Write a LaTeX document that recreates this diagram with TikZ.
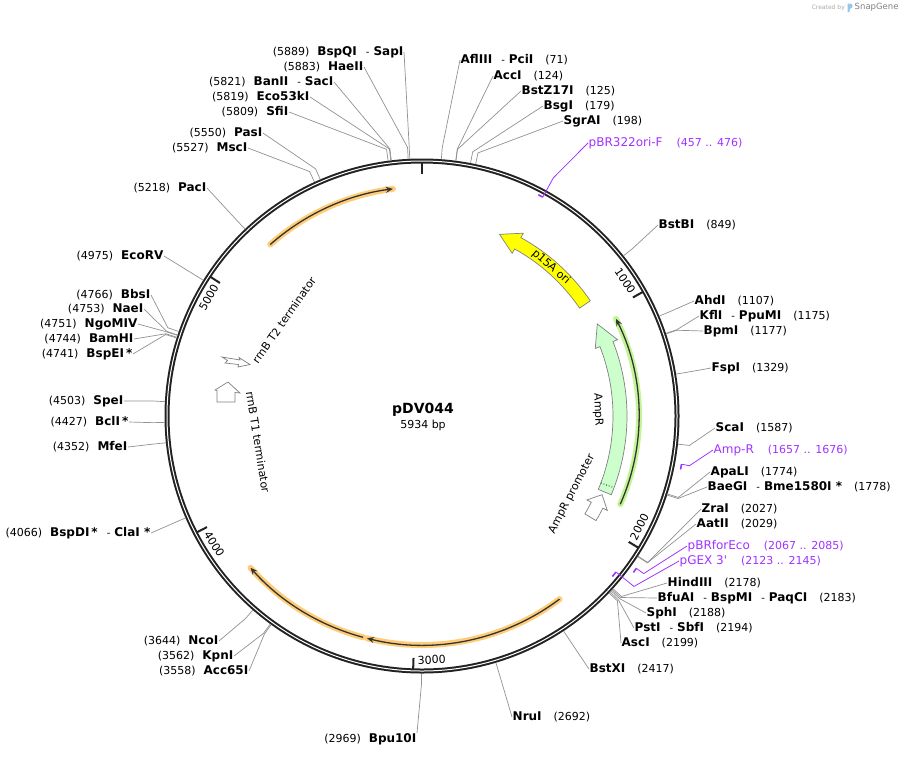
\documentclass[tikz,border=0pt]{standalone}
\usepackage{fontspec}
\setmainfont{DejaVu Sans}
\usetikzlibrary{calc,arrows.meta}

\definecolor{primer}{RGB}{160,50,255}
\definecolor{ringc}{RGB}{34,34,34}
\definecolor{leadc}{RGB}{145,145,145}
\definecolor{orfglow}{RGB}{255,205,120}
\definecolor{ampglow}{RGB}{195,245,150}
\definecolor{oriyel}{RGB}{255,255,0}
\definecolor{ampfill}{RGB}{204,255,204}
\definecolor{featline}{RGB}{128,128,128}
\definecolor{logoblue}{RGB}{150,200,235}

\newcommand\nm[1]{{\fontsize{12}{14}\selectfont\bfseries #1}}
\newcommand\ps[1]{{\fontsize{11}{13}\selectfont(#1)}}
\newcommand\pn[1]{{\fontsize{12}{14}\selectfont #1}}
\newcommand\dsh{\hspace{9pt}-\hspace{4pt}}
\def\ang#1{#1*0.06066734-90}

\tikzset{
  site/.style={inner sep=0.5pt, text height=8.5pt, text depth=2pt, text=black},
  plbl/.style={inner sep=0.5pt, text height=8.5pt, text depth=2pt, text=primer},
  leader/.style={draw=leadc, line width=0.7pt},
  feat/.style={draw=featline, line width=0.7pt},
  orfline/.style={draw=black!80, line width=1.3pt, -{Stealth[length=7pt,width=6pt]}},
  tick/.style={draw=ringc, line width=2pt},
  ticklbl/.style={inner sep=0pt, font=\fontsize{11}{13}\selectfont},
  featlbl/.style={inner sep=0pt, font=\fontsize{11}{13}\selectfont}
}

% enzyme site: id, bp, x, y, anchor, label
\newcommand\site[6]{%
  \coordinate (#1-r) at ($(O)+({\ang{#2}}:257.5)$);
  \coordinate (#1-k) at ($(O)+({\ang{#2}}:269)$);
  \node[site, anchor=#5] (#1) at (#3,#4) {#6};
  \draw[leader] (#1-r) -- (#1-k) -- (#1.#5);}

% primer: id, from, to, hook, mark radius, x, y, label
\newcommand\primer[8]{%
  \draw[primer, line width=1.6pt] ($(O)+({\ang{#2}}:#5)$) arc[start angle={\ang{#2}}, end angle={\ang{#3}}, radius=#5];
  \coordinate (#1-r) at ($(O)+({\ang{#4}}:#5)$);
  \coordinate (#1-k) at ($(O)+({\ang{#4}}:272)$);
  \node[plbl, anchor=west] (#1) at (#6,#7) {#8};
  \draw[primer, line width=0.8pt] (#1-r) -- (#1-k) -- (#1.west);}

% feature arrow: style, tail, head base, tip (angles), r in, r out
\newcommand\featarrow[6]{%
  \filldraw[feat, #1] ($(O)+(#2:#6)$) arc[start angle=#2, end angle=#3, radius=#6]
    -- ($(O)+(#3:{#6+5})$) -- ($(O)+(#4:{(#5+#6)/2})$) -- ($(O)+(#3:{#5-5})$)
    -- ($(O)+(#3:#5)$) arc[start angle=#3, end angle=#2, radius=#5] -- cycle;}

% orf: glow colour, start, end, radius
\newcommand\orf[4]{%
  \draw[#1, line width=6pt, line cap=round] ($(O)+(#2:#4)$) arc[start angle=#2, end angle=#3, radius=#4];
  \draw[orfline] ($(O)+(#2:#4)$) arc[start angle=#2, end angle=#3, radius=#4];}

\begin{document}
\begin{tikzpicture}[x=1pt, y=-1pt]
\useasboundingbox (0,0) rectangle (909,758);
\coordinate (O) at (422,416);

%%% backbone
\draw[ringc, line width=5pt] (O) circle (255);
\draw[white, line width=1pt] (O) circle (255);
\foreach \t in {0,1000,...,5000}
  \draw[tick] ($(O)+({\ang{\t}}:254)$) -- ($(O)+({\ang{\t}}:242)$);
\foreach \t/\s in {1000/-90,2000/90,3000/90,4000/90,5000/-90}{
  \pgfmathsetmacro\la{\ang{\t}-4.3}
  \pgfmathsetmacro\rr{\s-\la}
  \node[ticklbl, rotate=\rr] (tk\t) at ($(O)+(\la:244)$) {\t};
}

%%% features
\featarrow{fill=oriyel}{-34.4}{-61}{-66.9}{191}{204}
\node[featlbl, rotate=-40.9] (p15a) at ($(O)+(-49.1:197)$) {p15A ori};
\featarrow{fill=ampfill}{22.6}{-21.3}{-27.7}{191}{205}
\draw[dotted, line width=0.8pt] ($(O)+(20.5:191)$) -- ($(O)+(20.5:205)$);
\node[featlbl, rotate=-88] (ampr) at ($(O)+(-2:176)$) {AmpR};
\featarrow{fill=white}{31}{27}{23.6}{190}{203}
\node[featlbl, rotate=62.5] (amprp) at ($(O)+(27.5:169)$) {AmpR promoter};
\filldraw[feat, fill=white] (222,357) -- (240,360) -- (239,357.5) -- (250,364.5) -- (238,367) -- (238.5,364.5) -- (225,363) -- (227.5,360.5) -- cycle;
\node[featlbl, rotate=55.2] (t2) at ($(O)+(-145.2:168)$) {rrnB T2 terminator};
\filldraw[feat, fill=white] (217,402) -- (235,402) -- (235,392.5) -- (240,393) -- (228,382) -- (215,390) -- (217,390.5) -- cycle;
\node[featlbl, rotate=-81] (t1) at ($(O)+(171:166)$) {rrnB T1 terminator};

%%% orfs
\orf{orfglow}{-131.5}{-97.3}{229}
\orf{orfglow}{53.1}{103.9}{229}
\orf{orfglow}{104.9}{138.5}{229}
\orf{ampglow}{24}{-26.6}{217}

%%% name
\node[inner sep=0pt, font=\fontsize{14}{16}\selectfont\bfseries] (title) at (423,410) {pDV044};
\node[inner sep=0pt, font=\fontsize{11}{13}\selectfont, anchor=north] (len) at ([yshift=-3pt]title.south) {5934 bp};

%%% primers
\primer{pbrori}{457}{476}{476}{250}{588}{143}{\pn{pBR322ori-F}\hspace{14pt}\ps{457 .. 476}}
\primer{ampR}{1657}{1676}{1657}{264}{713}{450}{\pn{Amp-R}\hspace{14pt}\ps{1657 .. 1676}}
\primer{pbrfor}{2067}{2085}{2067}{263}{687}{546}{\pn{pBRforEco}\hspace{14pt}\ps{2067 .. 2085}}
\primer{pgex}{2123}{2145}{2123}{249}{679}{561}{\pn{pGEX 3\textquotesingle}\hspace{14pt}\ps{2123 .. 2145}}

%%% sites, right
\site{aflIII}{71}{460}{60}{west}{\nm{AflIII}\dsh\nm{PciI}\hspace{12pt}\ps{71}}
\site{accI}{124}{493}{76}{west}{\nm{AccI}\hspace{12pt}\ps{124}}
\site{bstZ}{125}{521}{91}{west}{\nm{BstZ17I}\hspace{12pt}\ps{125}}
\site{bsgI}{179}{543}{106}{west}{\nm{BsgI}\hspace{12pt}\ps{179}}
\site{sgrAI}{198}{563}{121}{west}{\nm{SgrAI}\hspace{12pt}\ps{198}}
\site{bstBI}{849}{658}{225}{west}{\nm{BstBI}\hspace{12pt}\ps{849}}
\site{ahdI}{1107}{694}{301}{west}{\nm{AhdI}\hspace{12pt}\ps{1107}}
\site{kflI}{1175}{699}{316}{west}{\nm{KflI}\dsh\nm{PpuMI}\hspace{12pt}\ps{1175}}
\site{bpmI}{1177}{703}{331}{west}{\nm{BpmI}\hspace{12pt}\ps{1177}}
\site{fspI}{1329}{711}{368}{west}{\nm{FspI}\hspace{12pt}\ps{1329}}
\site{scaI}{1587}{715}{428}{west}{\nm{ScaI}\hspace{12pt}\ps{1587}}
\site{apaLI}{1774}{710}{472}{west}{\nm{ApaLI}\hspace{12pt}\ps{1774}}
\site{baeGI}{1778}{707}{487}{west}{\nm{BaeGI}\dsh\nm{Bme1580I *}\hspace{12pt}\ps{1778}}
\site{zraI}{2027}{701}{509}{west}{\nm{ZraI}\hspace{12pt}\ps{2027}}
\site{aatII}{2029}{696}{524}{west}{\nm{AatII}\hspace{12pt}\ps{2029}}
\site{hindIII}{2178}{667}{583}{west}{\nm{HindIII}\hspace{12pt}\ps{2178}}
\site{bfuAI}{2183}{657}{598}{west}{\nm{BfuAI}\dsh\nm{BspMI}\dsh\nm{PaqCI}\hspace{12pt}\ps{2183}}
\site{sphI}{2188}{646}{613}{west}{\nm{SphI}\hspace{12pt}\ps{2188}}
\site{pstI}{2194}{634}{628}{west}{\nm{PstI}\dsh\nm{SbfI}\hspace{12pt}\ps{2194}}
\site{ascI}{2199}{621}{643}{west}{\nm{AscI}\hspace{12pt}\ps{2199}}
\site{bstXI}{2417}{589}{669}{west}{\nm{BstXI}\hspace{12pt}\ps{2417}}
\site{nruI}{2692}{512}{717}{west}{\nm{NruI}\hspace{12pt}\ps{2692}}

%%% sites, left
\site{bpu10I}{2969}{417}{733}{north east}{\ps{2969}\hspace{8pt}\nm{Bpu10I}}
\site{ncoI}{3644}{219}{641}{east}{\ps{3644}\hspace{8pt}\nm{NcoI}}
\site{kpnI}{3562}{234}{656}{east}{\ps{3562}\hspace{8pt}\nm{KpnI}}
\site{acc65I}{3558}{249}{671}{east}{\ps{3558}\hspace{8pt}\nm{Acc65I}}
\site{bspDI}{4066}{151}{533}{east}{\ps{4066}\hspace{8pt}\nm{BspDI\,*}\dsh\nm{ClaI *}}
\site{mfeI}{4352}{128}{447}{east}{\ps{4352}\hspace{8pt}\nm{MfeI}}
\site{bclI}{4427}{129}{422}{east}{\ps{4427}\hspace{8pt}\nm{BclI\,*}}
\site{speI}{4503}{124}{401}{east}{\ps{4503}\hspace{8pt}\nm{SpeI}}
\site{bspEI}{4741}{133}{354}{east}{\ps{4741}\hspace{8pt}\nm{BspEI\,*}}
\site{bamHI}{4744}{134}{339}{east}{\ps{4744}\hspace{8pt}\nm{BamHI}}
\site{ngoMIV}{4751}{138}{324}{east}{\ps{4751}\hspace{8pt}\nm{NgoMIV}}
\site{naeI}{4753}{144}{309}{east}{\ps{4753}\hspace{8pt}\nm{NaeI}}
\site{bbsI}{4766}{151}{295}{east}{\ps{4766}\hspace{8pt}\nm{BbsI}}
\site{ecoRV}{4975}{164}{256}{east}{\ps{4975}\hspace{8pt}\nm{EcoRV}}
\site{pacI}{5218}{207}{188}{east}{\ps{5218}\hspace{8pt}\nm{PacI}}
\site{mscI}{5527}{248}{148}{east}{\ps{5527}\hspace{8pt}\nm{MscI}}
\site{pasI}{5550}{263}{133}{east}{\ps{5550}\hspace{8pt}\nm{PasI}}
\site{sfiI}{5809}{289}{112}{east}{\ps{5809}\hspace{8pt}\nm{SfiI}}
\site{eco53kI}{5819}{310}{97}{east}{\ps{5819}\hspace{8pt}\nm{Eco53kI}}
\site{banII}{5821}{334}{82}{east}{\ps{5821}\hspace{8pt}\nm{BanII}\dsh\nm{SacI}}
\site{haeII}{5883}{364}{67}{east}{\ps{5883}\hspace{8pt}\nm{HaeII}}
\site{bspQI}{5889}{404}{52}{east}{\ps{5889}\hspace{8pt}\nm{BspQI}\dsh\nm{SapI}}

%%% credit
\node[inner sep=0pt, anchor=east, text=black!35, font=\fontsize{6}{7}\selectfont] (credit) at (845,7.5) {Created by};
\fill[logoblue] (847.5,12) -- (847.5,3.5) -- (850,3.5) arc[start angle=-90, end angle=90, radius=2.6] -- (850,8.7) -- (849.5,12) -- cycle;
\node[inner sep=0pt, anchor=west, text=black!50, font=\fontsize{8.5}{9}\selectfont] (sgene) at (854.5,7.5) {SnapGene};
\end{tikzpicture}
\end{document}
